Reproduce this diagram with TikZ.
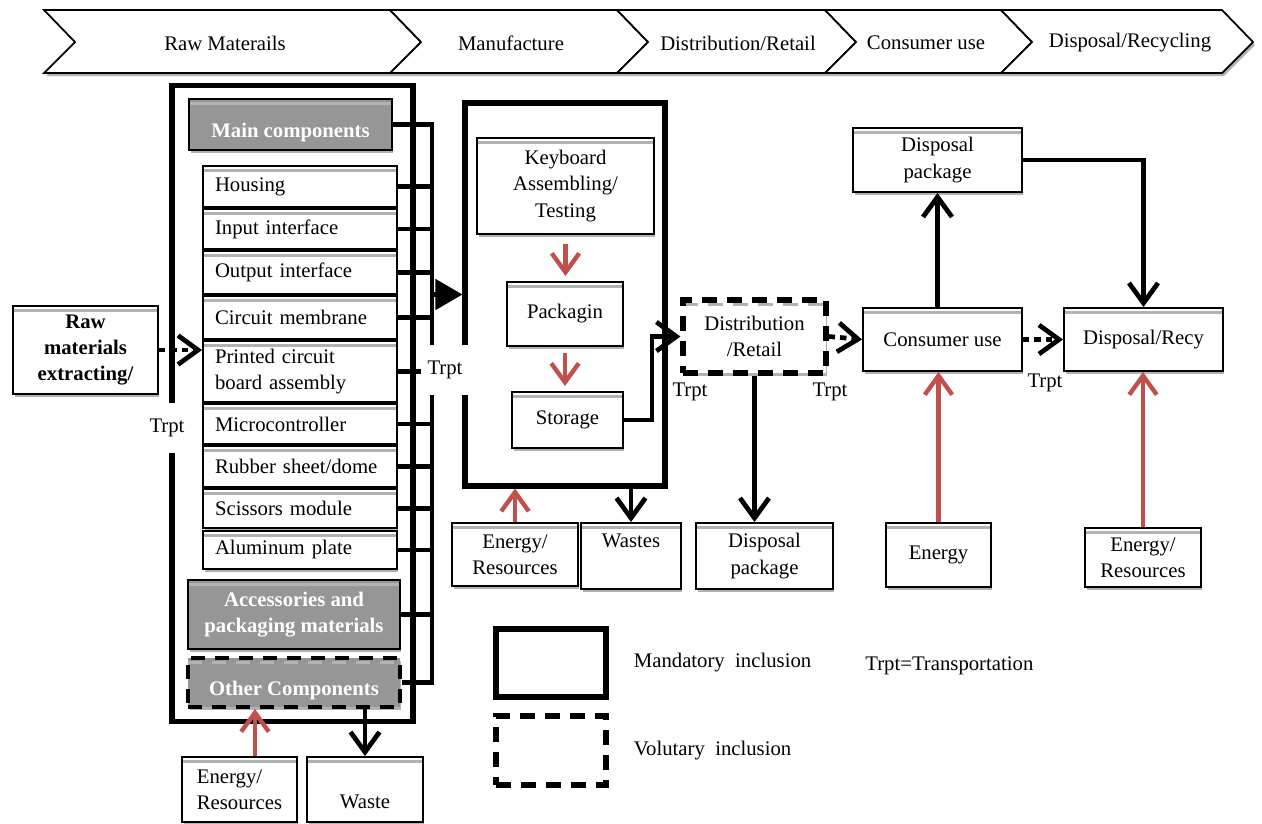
\documentclass[tikz,border=0pt]{standalone}
\usepackage{fontspec}
\setmainfont{Liberation Serif}
\usetikzlibrary{arrows.meta, shadows, positioning}
\definecolor{arrred}{RGB}{192,80,77}
\definecolor{compgray}{RGB}{150,150,150}
\newcommand{\figfont}{\fontsize{11.8}{15}\selectfont}
\tikzset{
  blk/.style={draw, line width=1.1pt, fill=white,
    drop shadow={shadow xshift=0.03cm, shadow yshift=-0.06cm, fill=black!30, opacity=1},
    path picture={\draw[black!30, line width=1.5pt] ([yshift=-0.09cm]path picture bounding box.north west) -- ([yshift=-0.09cm]path picture bounding box.north east);}},
  comp/.style={blk, text width=3.4cm, align=left, minimum width=3.88cm},
  grp/.style={blk, fill=compgray, text=white, font=\figfont\bfseries, align=center, minimum width=4.24cm},
  frame/.style={draw, line width=2.9pt},
  vol/.style={frame, dash pattern=on 0.3cm off 0.2cm},
  conn/.style={line width=2.7pt},
  flow/.style={conn, -{Straight Barb[length=0.4cm,width=0.58cm]}},
  trans/.style={flow, dash pattern=on 0.13cm off 0.1cm},
  feed/.style={line width=2.5pt, arrred, -{Straight Barb[length=0.38cm,width=0.55cm]}},
  lbl/.style={inner sep=0pt}
}

\begin{document}
\begin{tikzpicture}[x=0.02cm, y=-0.02cm, font=\figfont]
\useasboundingbox (0,0) rectangle (1262,823);
\foreach \l/\r in {44/390, 390/617, 617/825, 825/1001, 1001/1222}
  \fill[black!30, shift={(2,3)}] (\l,10) -- (\r,10) -- (\r+31,42) -- (\r,73) -- (\l,73) -- (\l+31,42) -- cycle;
\foreach \l/\r in {44/390, 390/617, 617/825, 825/1001, 1001/1222}
  \filldraw[fill=white, line width=1pt] (\l,10) -- (\r,10) -- (\r+31,42) -- (\r,73) -- (\l,73) -- (\l+31,42) -- cycle;
\node (s1) at (225,43) {Raw Materails};
\node (s2) at (511,43) {Manufacture};
\node (s3) at (738,43) {Distribution/Retail};
\node (s4) at (926,43) {Consumer use};
\node (s5) at (1130,43) {Disposal/Recycling};

\node[frame, minimum width=4.82cm, minimum height=12.74cm] (rawbox) at (292.5,403.5) {};
\node[frame, minimum width=4cm, minimum height=7.66cm] (mfg) at (565,294.5) {};

\node[grp, minimum width=4.06cm, minimum height=1.02cm, text height=0.6cm, inner ysep=0.05cm] (main) at (290.5,124.5) {Main components};
\node[comp, minimum height=0.82cm] (house) at (300,186.5) {Housing};
\node[comp, minimum height=0.8cm] (input) at (300,229) {Input interface};
\node[comp, minimum height=0.86cm] (output) at (300,272.5) {Output interface};
\node[comp, minimum height=0.86cm] (circuit) at (300,317.5) {Circuit membrane};
\node[comp, minimum height=1.22cm] (pcb) at (300,371.5) {Printed circuit\\board assembly};
\node[comp, minimum height=0.8cm] (micro) at (300,424) {Microcontroller};
\node[comp, minimum height=0.82cm] (rubber) at (300,466.5) {Rubber sheet/dome};
\node[comp, minimum height=0.78cm] (scissors) at (300,508.5) {Scissors module};
\node[comp, minimum height=0.76cm] (alum) at (300,550) {Aluminum plate};
\node[grp, minimum height=1.38cm] (acc) at (294,614.5) {Accessories and\\packaging materials};
\node[grp, line width=2.2pt, dash pattern=on 0.28cm off 0.2cm, minimum height=0.98cm, text height=0.6cm, inner ysep=0.05cm] (oth) at (294,682.5) {Other Components};

\node[blk, font=\figfont\bfseries, align=center, minimum width=2.9cm, minimum height=1.76cm] (rawex) at (85.5,350) {Raw\\materials\\extracting/};
\node[blk, align=left, minimum width=2.3cm, minimum height=1.3cm] (enraw) at (239.5,789.5) {Energy/\\Resources};
\node[blk, minimum width=2.32cm, minimum height=1.3cm, text height=0.78cm, inner ysep=0.02cm] (wraw) at (365,789.5) {Waste};

\node[blk, align=center, minimum width=3.54cm, minimum height=1.92cm] (assy) at (565.5,186) {Keyboard\\Assembling/\\Testing};
\node[blk, minimum width=2.32cm, minimum height=1.28cm] (pack) at (565,314) {Packagin};
\node[blk, minimum width=2.22cm, minimum height=1.12cm] (stor) at (567.5,420) {Storage};
\node[blk, align=center, minimum width=2.52cm, minimum height=1.26cm] (enmfg) at (515,554.5) {Energy/\\Resources};
\node[blk, minimum width=2cm, minimum height=1.32cm, text depth=0.6cm, inner ysep=0.05cm] (wst) at (631,556) {Wastes};

\node[blk, vol, align=center, minimum width=2.86cm, minimum height=1.46cm] (dist) at (754.5,336.5) {Distribution\\/Retail};
\node[blk, align=center, minimum width=2.74cm, minimum height=1.32cm] (dpackb) at (764.5,556) {Disposal\\package};

\node[blk, minimum width=3.18cm, minimum height=1.26cm] (cons) at (942.5,339.5) {Consumer use};
\node[blk, align=center, minimum width=3.38cm, minimum height=1.28cm] (dpackt) at (937.5,160) {Disposal\\package};
\node[blk, minimum width=3.18cm, minimum height=1.26cm] (recy) at (1143.5,339.5) {Disposal/Recy};
\node[blk, minimum width=2.1cm, minimum height=1.28cm] (energy) at (938.5,555) {Energy};
\node[blk, align=center, minimum width=2.32cm, minimum height=1.18cm] (enrecy) at (1143,557.5) {Energy/\\Resources};

\coordinate (bus) at (432,125);
\coordinate (sbend) at (652,420);
\foreach \n in {house,input,output,circuit,pcb,micro,rubber,scissors,alum,acc}
  \draw[conn] (\n.east) -- (\n.east -| bus);
\draw[conn] (main.east) -| (bus |- oth.east) -- (oth.east);
\draw[conn, -{Triangle[length=0.54cm,width=0.6cm]}] (mfg.west -| bus) -- (mfg.west);
\draw[trans] (rawex.east) -- (rawex.east -| pcb.west);
\draw[feed, shorten <=0.18cm, shorten >=0.1cm] (assy.south) -- (assy.south |- pack.north);
\draw[feed, shorten <=0.12cm, shorten >=0.1cm] (pack.south) -- (pack.south |- stor.north);
\draw[flow] (stor.east) -- (stor.east -| sbend) |- (dist.west);
\draw[trans] (dist.east) -- (cons.west);
\draw[flow] (dist.south) -- (dist.south |- dpackb.north);
\draw[feed] (enmfg.north) -- (enmfg.north |- mfg.south);
\draw[flow] (wst.north |- mfg.south) -- (wst.north);
\draw[flow] (dpackt.south |- cons.north) -- (dpackt.south);
\draw[flow] (dpackt.east) -| (recy.north);
\draw[trans] (cons.east) -- (recy.west);
\draw[feed] (energy.north) -- (energy.north |- cons.south);
\draw[feed] (enrecy.north) -- (enrecy.north |- recy.south);
\draw[feed] ([xshift=0.31cm]enraw.north) -- ([xshift=0.31cm]enraw.north |- oth.south);
\draw[flow] (wraw.north |- oth.south) -- (wraw.north);

\node[fill=white, minimum width=0.8cm, minimum height=1cm] (t1) at (167,428) {Trpt};
\node[fill=white, minimum width=0.96cm, minimum height=1cm] (t2) at (445,370) {Trpt};
\node (t3) at (690,392) {Trpt};
\node (t4) at (830,392) {Trpt};
\node (t5) at (1045,383) {Trpt};

\node[frame, minimum width=2.2cm, minimum height=1.36cm] (leg1) at (551,663) {};
\node[vol, minimum width=2.2cm, minimum height=1.38cm] (leg2) at (551,750.5) {};
\node[lbl, right=0.5cm of leg1] (legm) {Mandatory\ \ inclusion};
\node[lbl, right=0.5cm of leg2] (legv) {Volutary\ \ inclusion};
\node[lbl, anchor=west] (legt) at (865,666) {Trpt=Transportation};
\end{tikzpicture}
\end{document}
